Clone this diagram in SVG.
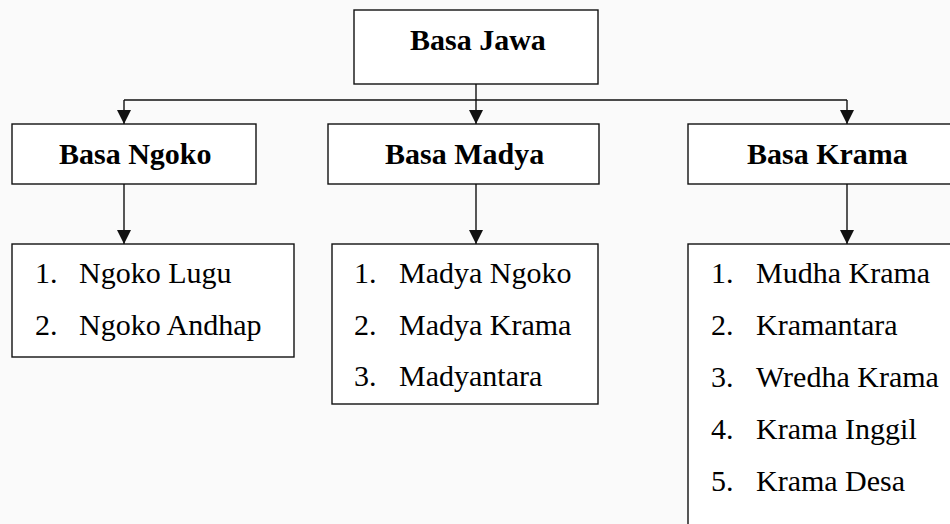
<svg xmlns="http://www.w3.org/2000/svg" width="950" height="524" viewBox="0 0 950 524">
<defs>
<marker id="arr" markerWidth="14" markerHeight="14" refX="14" refY="7" orient="auto" markerUnits="userSpaceOnUse" viewBox="0 0 14 14">
<path d="M0,0 L14,7 L0,14 Z" fill="#111"/>
</marker>
</defs>
<style>
.box{fill:#fff;stroke:#111;stroke-width:1.4}
.h{font-weight:bold;font-size:30px;fill:#000}
.t{font-size:30px;fill:#000}
.c{fill:none;stroke:#111;stroke-width:1.4}
</style>
<rect width="950" height="524" fill="#fafafa"/>
<g id="connectors">
<path class="c" d="M476,84 V100"/>
<path class="c" d="M124,100 H847"/>
<path class="c" d="M124,100 V124" marker-end="url(#arr)"/>
<path class="c" d="M476,100 V124" marker-end="url(#arr)"/>
<path class="c" d="M847,100 V124" marker-end="url(#arr)"/>
<path class="c" d="M124,184 V244" marker-end="url(#arr)"/>
<path class="c" d="M476,184 V244" marker-end="url(#arr)"/>
<path class="c" d="M847,184 V244" marker-end="url(#arr)"/>
</g>
<g font-family="Liberation Serif, Times New Roman, serif">
<g id="basa-jawa">
<rect class="box" x="354" y="10" width="244" height="74"/>
<text class="h" x="410" y="50">Basa Jawa</text>
</g>
<g id="basa-ngoko">
<rect class="box" x="12" y="124" width="244" height="60"/>
<text class="h" x="59" y="164">Basa Ngoko</text>
</g>
<g id="basa-madya">
<rect class="box" x="328" y="124" width="271" height="60"/>
<text class="h" x="385" y="164">Basa Madya</text>
</g>
<g id="basa-krama">
<rect class="box" x="688" y="124" width="270" height="60"/>
<text class="h" x="747" y="164">Basa Krama</text>
</g>
<g id="ngoko-list">
<rect class="box" x="12" y="244" width="282" height="113"/>
<text class="t" x="35" y="283">1.</text><text class="t" x="79" y="283">Ngoko Lugu</text>
<text class="t" x="35" y="335">2.</text><text class="t" x="79" y="335">Ngoko Andhap</text>
</g>
<g id="madya-list">
<rect class="box" x="332" y="244" width="266" height="160"/>
<text class="t" x="354" y="283">1.</text><text class="t" x="399" y="283">Madya Ngoko</text>
<text class="t" x="354" y="335">2.</text><text class="t" x="399" y="335">Madya Krama</text>
<text class="t" x="354" y="386">3.</text><text class="t" x="399" y="386">Madyantara</text>
</g>
<g id="krama-list">
<rect class="box" x="688" y="244" width="270" height="300"/>
<text class="t" x="711" y="283">1.</text><text class="t" x="756" y="283">Mudha Krama</text>
<text class="t" x="711" y="335">2.</text><text class="t" x="756" y="335">Kramantara</text>
<text class="t" x="711" y="387">3.</text><text class="t" x="756" y="387">Wredha Krama</text>
<text class="t" x="711" y="439">4.</text><text class="t" x="756" y="439">Krama Inggil</text>
<text class="t" x="711" y="491">5.</text><text class="t" x="756" y="491">Krama Desa</text>
</g>
</g>
</svg>
